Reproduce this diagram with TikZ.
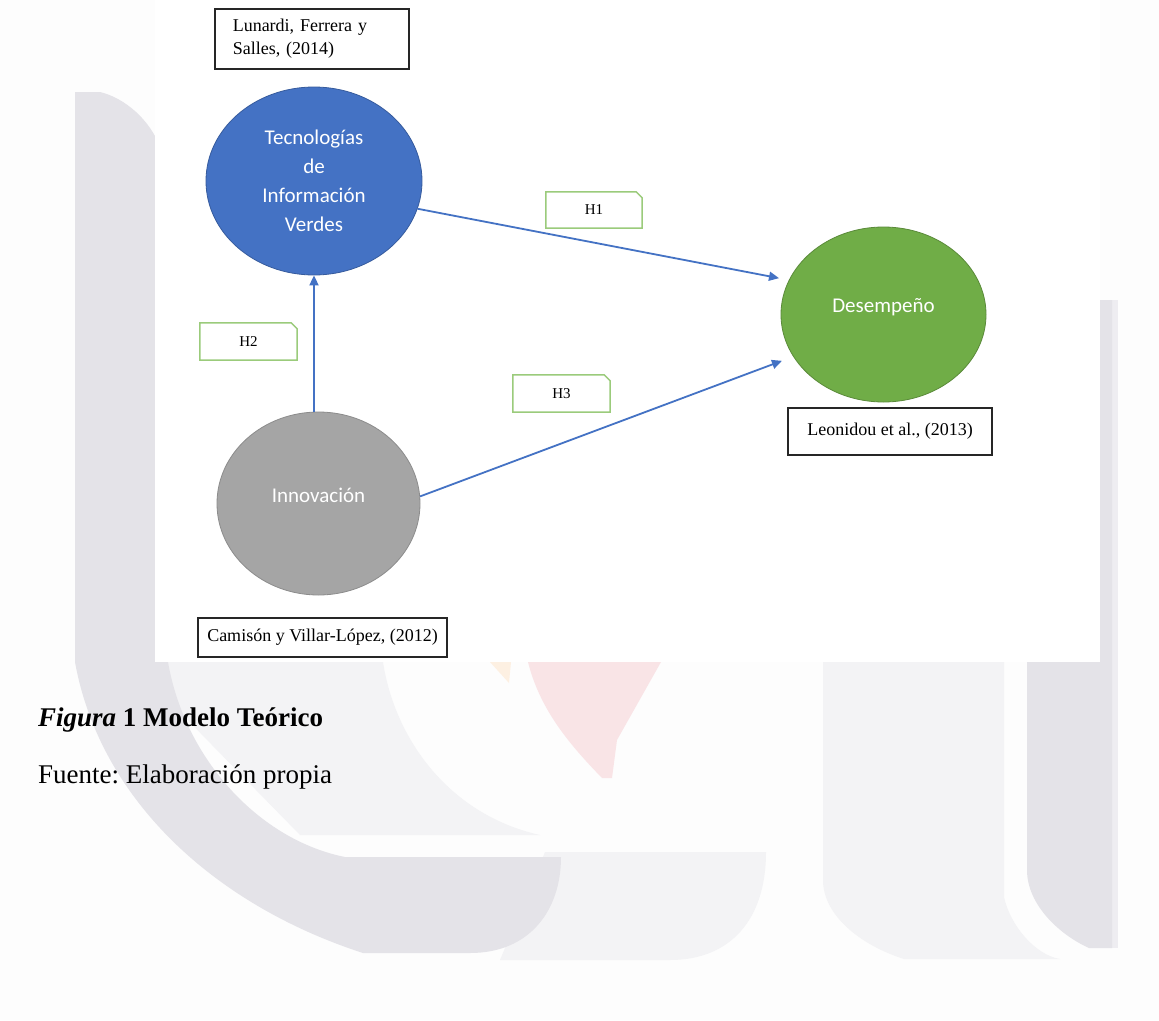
\documentclass[tikz,border=0pt]{standalone}
\usepackage{fontspec}
\setmainfont{Liberation Serif}
\newfontfamily\carlitofont{Carlito}
\usetikzlibrary{shapes.geometric,arrows.meta}

\definecolor{pagebg}{HTML}{FDFDFD}
\definecolor{wmdark}{HTML}{E4E3E8}
\definecolor{wmlight}{HTML}{F3F3F5}
\definecolor{wmedge}{HTML}{EEEDF1}
\definecolor{wmpink}{HTML}{F9E4E6}
\definecolor{wmorange}{HTML}{FDF0E2}
\definecolor{techblue}{HTML}{4472C4}
\definecolor{perfgreen}{HTML}{70AD47}
\definecolor{innogray}{HTML}{A5A5A5}
\definecolor{hypgreen}{HTML}{9BCB7B}
\definecolor{arrowblue}{HTML}{4472C4}

% hypothesis tag: rectangle with a snipped upper-right corner
\newcommand\hypframe[1]{%
  \draw[hypgreen, line width=1.5pt]
    (#1.north west) -- ([xshift=-6pt]#1.north east) -- ([yshift=-6pt]#1.north east)
    -- (#1.south east) -- (#1.south west) -- cycle;}

\begin{document}
\frenchspacing
\begin{tikzpicture}[x=1pt,y=-1pt,
  construct/.style={ellipse, inner sep=0pt, line width=0.8pt},
  ctext/.style={text=white, font=\carlitofont\fontsize{21}{29}\selectfont, align=center, inner sep=0pt},
  refbox/.style={draw=black!85, line width=1.5pt, fill=white, font=\fontsize{18}{23}\selectfont, inner sep=0pt},
  hypbox/.style={minimum width=96pt, minimum height=36pt, inner sep=0pt, font=\fontsize{15}{18}\selectfont},
  link/.style={draw=arrowblue, line width=1.8pt, -{Triangle[length=10pt,width=9pt]}}
]
\useasboundingbox (0,0) rectangle (1159,1020);
\fill[pagebg] (0,0) rectangle (1159,1020);

% ---- background watermark ----
% inner light arc of the left letter
\fill[wmlight] (160,600) -- (383,600) -- (383,662)
  .. controls (395,740) and (450,815) .. (540,835) -- (300,835) -- (168,700) -- cycle;
% light block at the bottom centre
\fill[wmlight] (545,852) -- (766,852) .. controls (766,920) and (730,960) .. (670,960)
  -- (500,960) -- cycle;
% dark curved left band
\fill[wmdark] (75,92) -- (100,92) .. controls (125,98) and (150,120) .. (160,147)
  -- (168,662) .. controls (185,760) and (260,840) .. (345,857) -- (561,857)
  .. controls (561,910) and (530,953) .. (470,953) -- (363,953)
  .. controls (215,905) and (100,800) .. (75,662) -- cycle;
% pink wedge and orange sliver
\fill[wmpink] (528,662) -- (661,662) -- (617,740) -- (612,778) -- (602,778)
  .. controls (570,745) and (540,710) .. (528,662) -- cycle;
\fill[wmorange] (490,662) -- (511,662) -- (509,683) -- cycle;
% right light U
\fill[wmlight] (823,600) -- (1004,600) -- (1004,897) .. controls (1010,925) and (1035,955) .. (1060,959)
  -- (904,959) .. controls (860,945) and (823,915) .. (823,880) -- cycle;
% right dark band
\fill[wmedge] (1112,300) rectangle (1118,948);
\fill[wmdark] (1027,300) -- (1112,300) -- (1112,948) -- (1089,948)
  .. controls (1060,935) and (1027,905) .. (1027,870) -- cycle;

% ---- diagram sheet ----
\fill[white] (155,0) rectangle (1100,662);

% constructs
\node[construct, fill=techblue, draw=techblue!80!black, minimum width=216pt, minimum height=188pt,
      label={[ctext, name=tecT]center:{Tecnolog\'ias\\de\\Informaci\'on\\Verdes}}]
      (tec) at (314,181) {};
\node[construct, fill=perfgreen, draw=perfgreen!80!black, minimum width=205pt, minimum height=175pt,
      label={[ctext, name=desT, yshift=7.5pt]center:Desempeño}]
      (des) at (883.5,314.5) {};
\node[construct, fill=innogray, draw=innogray!85!black, minimum width=203pt, minimum height=183pt,
      label={[ctext, name=innT, yshift=8pt]center:Innovación}]
      (inn) at (318.5,503.5) {};

% author references
\node[refbox, anchor=north west, minimum height=60pt, text width=158pt, align=left, inner xsep=18pt]
      (lun) at (214,8) {Lunardi, Ferrera y\\Salles, (2014)};
\node[refbox, minimum width=204pt, minimum height=47pt] (leo) at (890,431.5) {Leonidou et al., (2013)};
\node[refbox, minimum width=249pt, minimum height=39pt] (cam) at (322.5,637.5) {Camisón y Villar-López, (2012)};

% hypotheses paths
\draw[link, shorten >=10pt] (tec.-15) -- (des.160);
\draw[link] (tec.south |- inn.north) -- (tec.south);
\draw[link, shorten >=12pt] (inn.4) -- (des.205);

% hypothesis tags
\node[hypbox] (h1) at (594,210) {H1};
\node[hypbox, minimum width=97pt, minimum height=37pt] (h2) at (248.5,341.5) {H2};
\node[hypbox, minimum width=97pt, minimum height=37pt] (h3) at (561.5,393.5) {H3};
\hypframe{h1}
\hypframe{h2}
\hypframe{h3}

% caption
\node[anchor=base west, inner sep=0pt, font=\fontsize{27}{32}\selectfont\bfseries]
      (cap) at (38,726) {\textit{Figura} 1 Modelo Teórico};
\node[anchor=base west, inner sep=0pt, font=\fontsize{27}{32}\selectfont]
      (src) at (38,783) {Fuente: Elaboración propia};
\end{tikzpicture}
\end{document}
